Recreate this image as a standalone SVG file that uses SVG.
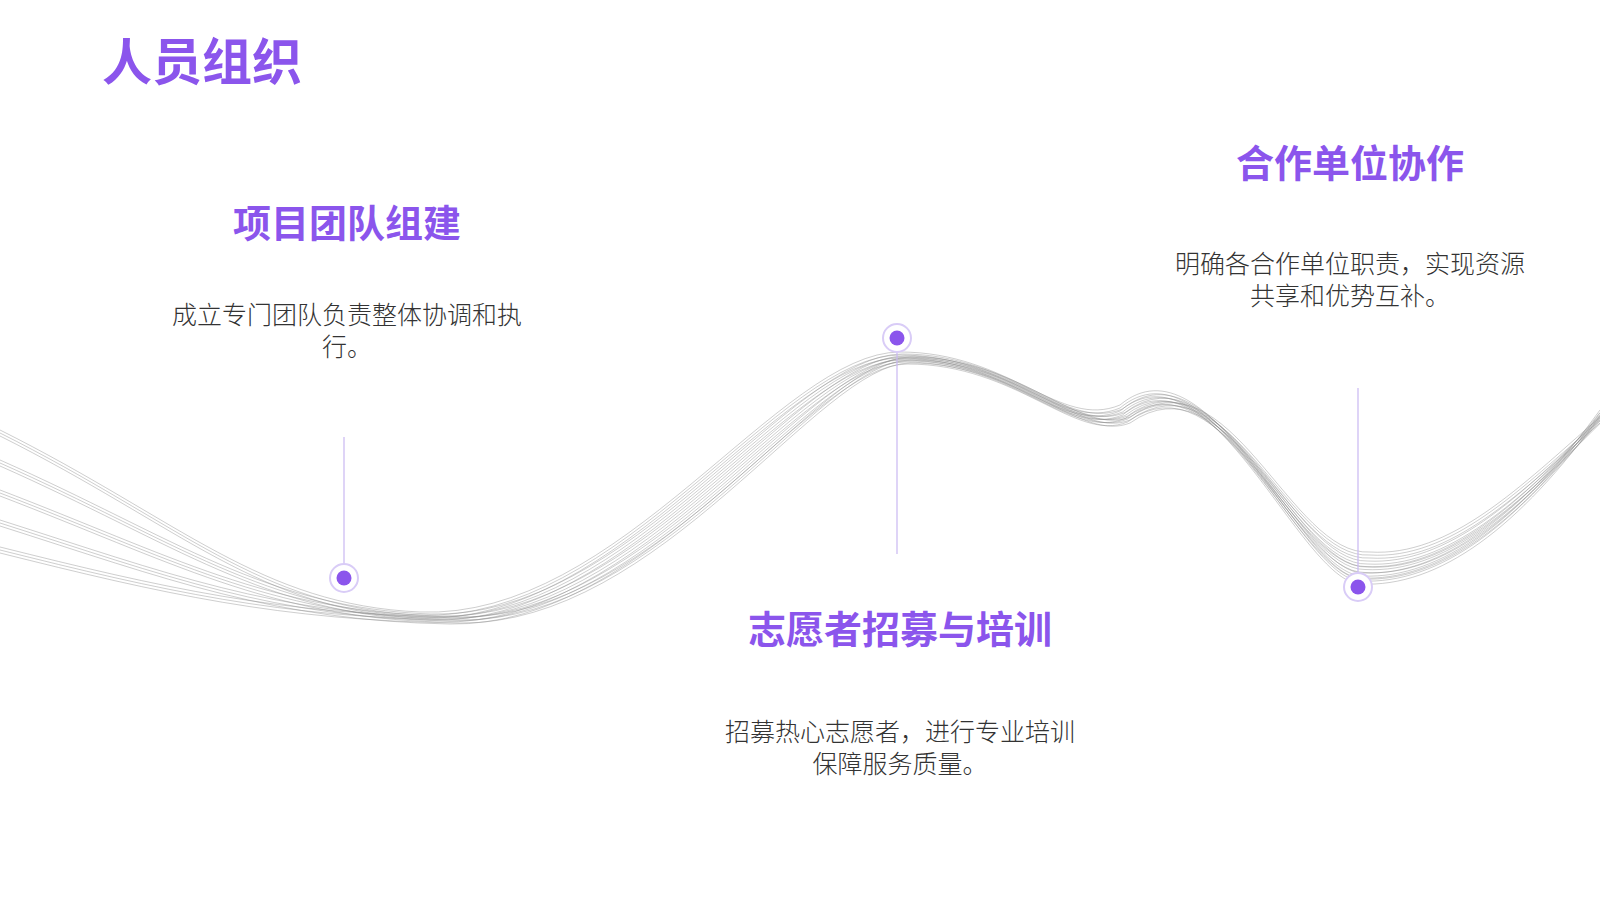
<svg xmlns="http://www.w3.org/2000/svg" xmlns:xlink="http://www.w3.org/1999/xlink" width="1600" height="900" viewBox="0 0 1600 900">
<style>
.h{font-family:"Noto Sans CJK SC","Noto Sans",sans-serif;font-weight:700;fill:#8b55ec;text-anchor:middle}
.b{font-family:"Noto Sans CJK SC","Noto Sans",sans-serif;font-size:25px;font-weight:300;fill:#333;text-anchor:middle}
.w{fill:none;stroke:#8a8a8a;stroke-width:0.6;stroke-opacity:0.7}
.v{stroke:#c9b8f2;stroke-width:1.2}
.ring{fill:#fff;stroke:#d9ccf7;stroke-width:2}
.dot{fill:#8b55ec}
</style>
<defs>
<path id="w0" d="M0,430 C180,520 260,605 420,612 C620,620 780,352 900,352 C1010,352 1060,430 1120,405 C1210,330 1300,575 1360,578 C1440,582 1520,520 1600,410"/>
<path id="w1" d="M0,460 C175,537.5 265,608 430,614 C630,620.5 790,354 902.5,354 C1012.5,354 1065,432.5 1122.5,409 C1215,335 1297.5,571 1362.5,573 C1442.5,576.5 1520,512.5 1600,412.5"/>
<path id="w2" d="M0,490 C170,555 270,611.5 440,616 C640,621 800,356 905,356 C1015,356 1070,435 1125,412.5 C1220,340 1295,567.5 1365,566.5 C1445,571 1520,505 1600,415"/>
<path id="w3" d="M0,520 C165,572.5 275,615 450,618 C650,621.5 810,358 907.5,358 C1017.5,358 1075,437.5 1127.5,416 C1225,345 1292.5,563.5 1367.5,561 C1447.5,565.5 1520,497.5 1600,417.5"/>
<path id="w4" d="M0,550 C160,590 280,618 460,620 C660,622 820,360 910,360 C1020,360 1080,440 1130,420 C1230,350 1290,560 1370,555 C1450,560 1520,490 1600,420"/>
</defs>
<rect width="1600" height="900" fill="#fff"/>
<g id="wave" class="w">
<use xlink:href="#w0"/><use xlink:href="#w0" y="3"/><use xlink:href="#w0" y="6"/>
<use xlink:href="#w1"/><use xlink:href="#w1" y="3"/><use xlink:href="#w1" y="6"/>
<use xlink:href="#w2"/><use xlink:href="#w2" y="3"/><use xlink:href="#w2" y="6"/>
<use xlink:href="#w3"/><use xlink:href="#w3" y="3"/><use xlink:href="#w3" y="6"/>
<use xlink:href="#w4"/><use xlink:href="#w4" y="-3"/><use xlink:href="#w4" y="3"/>
</g>
<text x="102" y="80" class="h" style="text-anchor:start" font-size="50">人员组织</text>
<g id="connectors">
<line class="v" x1="344" y1="437" x2="344" y2="566"/>
<line class="v" x1="897" y1="347" x2="897" y2="554"/>
<line class="v" x1="1358" y1="388" x2="1358" y2="576"/>
</g>
<g id="n1">
<text x="347" y="237" class="h" font-size="38">项目团队组建</text>
<text x="347" y="324" class="b">成立专门团队负责整体协调和执</text>
<text x="347" y="356" class="b">行。</text>
<circle class="ring" cx="344" cy="578" r="14"/><circle class="dot" cx="344" cy="578" r="7.5"/>
</g>
<g id="n2">
<text x="900" y="643" class="h" font-size="38">志愿者招募与培训</text>
<text x="900" y="741" class="b">招募热心志愿者，进行专业培训</text>
<text x="900" y="773" class="b">保障服务质量。</text>
<circle class="ring" cx="897" cy="338" r="14"/><circle class="dot" cx="897" cy="338" r="7.5"/>
</g>
<g id="n3">
<text x="1350" y="177" class="h" font-size="38">合作单位协作</text>
<text x="1350" y="273" class="b">明确各合作单位职责，实现资源</text>
<text x="1350" y="305" class="b">共享和优势互补。</text>
<circle class="ring" cx="1358" cy="587" r="14"/><circle class="dot" cx="1358" cy="587" r="7.5"/>
</g>
</svg>
